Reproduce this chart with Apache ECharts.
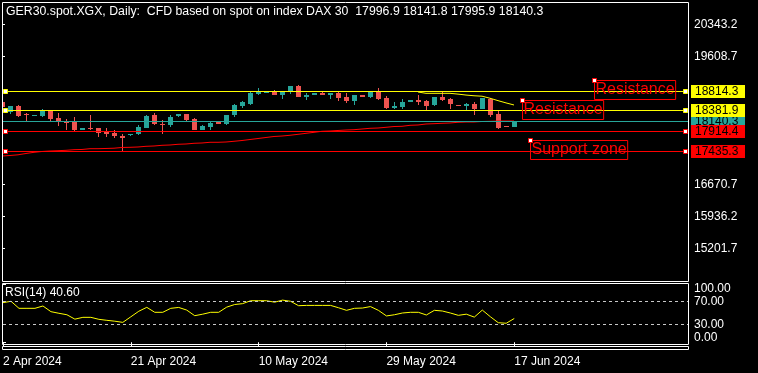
<!DOCTYPE html>
<html><head><meta charset="utf-8">
<script src="https://cdn.jsdelivr.net/npm/echarts@6/dist/echarts.min.js"></script>
<style>html,body{margin:0;padding:0;background:#000;}#c{width:758px;height:373px;}</style>
</head><body><div id="c"></div>
<script>
// ---------- DATA ----------
const symbolText = 'GER30.spot.XGX, Daily:  CFD based on spot on index DAX 30';
const dateLabels = ['2 Apr 2024','21 Apr 2024','10 May 2024','29 May 2024','17 Jun 2024'];
const dateLabelBars = [0,16,32,48,64];

const opens = [18568.7,18346.1,18476.9,18286.4,18254.3,18247.4,18362.1,18194.6,18116.6,18109.7,
17919.2,17972,17972,17910,17864.1,17788.4,17804.5,17834.3,17978.9,18277.2,
18070.7,18040.8,18247.4,18293.3,18178.5,17926.1,17994.9,18109.7,18063.8,18270.3,
18476.9,18522.8,18752.3,18782.1,18814.3,18736.2,18814.3,18935.9,18690.3,18736.2,
18775.2,18736.2,18775.2,18690.3,18598.5,18729.3,18690.3,18805.1,18667.4,18437.9,
18460.8,18568.7,18614.6,18591.6,18499.8,18683.4,18637.5,18506.7,18483.8,18522.8,
18408,18637.5,18293.3,18024.8,17996.9];
const highs = [18591.6,18476.9,18493,18309.4,18270.3,18401.2,18385.1,18316.2,18171.7,18217.6,
17965.1,18270.3,17972,17972,17926.1,17834.3,17834.3,18040.8,18270.3,18323.1,
18155.6,18270.3,18293.3,18293.3,18201.5,18040.8,18132.6,18109.7,18270.3,18522.8,
18591.6,18798.2,18890,18805.1,18844.1,18814.3,18935.9,18958.9,18782.1,18775.2,
18805.1,18775.2,18805.1,18782.1,18729.3,18729.3,18805.1,18896.9,18713.3,18568.7,
18637.5,18614.6,18729.3,18614.6,18683.4,18798.2,18660.5,18506.7,18545.7,18568.7,
18660.5,18660.5,18362.1,18024.8,18141.8];
const lows = [18453.9,18293.3,18224.4,18139.5,18254.3,18231.3,18109.7,18017.9,17919.2,17880.2,
17919.2,17926.1,17765.4,17765.4,17742.5,17437.3,17788.4,17811.3,17965.1,18034,
17834.3,17994.9,18224.4,18109.7,17926.1,17926.1,17926.1,18063.8,18040.8,18224.4,
18431,18499.8,18729.3,18782.1,18736.2,18644.4,18759.2,18683.4,18621.5,18736.2,
18736.2,18644.4,18598.5,18545.7,18506.7,18690.3,18660.5,18607.7,18401.2,18401.2,
18401.2,18568.7,18499.8,18362.1,18476.9,18591.6,18408,18483.8,18362.1,18277.2,
18408,18231.3,17949,18001.8,17995.9];
const closes = [18460.8,18476.9,18247.4,18263.5,18270.3,18362.1,18178.5,18116.6,18093.6,17919.2,
17965.1,17942.2,17864.1,17827.4,17781.5,17742.5,17834.3,18001.8,18247.4,18063.8,
18047.7,18224.4,18293.3,18155.6,17926.1,18017.9,18086.7,18063.8,18270.3,18499.8,
18568.7,18775.2,18821.1,18805.1,18736.2,18814.3,18935.9,18683.4,18736.2,18775.2,
18736.2,18775.2,18667.4,18591.6,18729.3,18690.3,18805.1,18644.4,18437.9,18483.8,
18568.7,18614.6,18568.7,18476.9,18683.4,18614.6,18522.8,18483.8,18522.8,18408,
18660.5,18277.2,17972,18001.8,18140.3];

const maRed = [17329,17341,17357,17387,17414,17433,17444,17451,17460,17474,
17479,17497,17497,17502,17508,17525,17529,17536,17552,17559,
17575,17582,17598,17605,17621,17628,17644,17644,17651,17667,
17685,17708,17731,17754,17777,17788,17805,17827,17850,17873,
17896,17903,17915,17926,17933,17949,17965,17972,17988,18006,
18011,18034,18041,18064,18071,18080,18087,18103,18110,18110,
18121,18126,18133,18133,18133];
const maYellowStartBar = 52;
const maYellow = [18798,18768,18768,18768,18768,18750,18728,18712,18702,18655,18600,18548,18500];

const rsi = [67.7,70,58,58,58,62,52.3,49.5,47,39.5,
42.6,42.6,39.2,37.5,36,34,43.5,53,59.7,51.2,
51.2,58,59.5,55,45.4,48,51.2,51.2,60,64.5,
66,71,71,71,68.5,72,70,62.5,63,63,
63,63,59,54.6,58,58.5,61,54.5,45,47,
50,51.2,51.2,46.6,54.6,53.4,50,46,48,43,
55,43.7,33.4,32.5,40.6];

const priceTicks = [20343.2,19608.7,16670.7,15936.2,15201.7];
const rsiTicks = [0,30,70,100];
const rsiLevels = [70,30];
const bidPrice = 18140.3;
const levelPrices = [18814.3,18381.9,17914.4,17435.3];
const noteTexts = ['Resistance','Resistance','Support zone'];
const noteBars = [74,65,66];
const notePrices = [19066.7,18621.5,17689.7];

// ---------- STYLE ----------
const UP = '#26a69a', DOWN = '#ef5350';
const FONT = '"Liberation Sans", Arial, sans-serif';
const levelColors = ['#ffff00','#ffff00','#ff0000','#ff0000'];

const chart = echarts.init(document.getElementById('c'), null, {renderer:'canvas'});

const candleData = opens.map((o,i)=>[i,o,closes[i],lows[i],highs[i]]);
const levelData = [bidPrice].concat(levelPrices).map(v=>[0,v]);
const levelLine = [UP].concat(levelColors);
const levelAnchor = [false,true,true,true,true];

const option = {
  backgroundColor:'#000',
  animation:false,
  textStyle:{fontFamily:FONT},
  title:[
    {text: symbolText + '  ' + [opens[64],highs[64],lows[64],closes[64]].map(v=>v.toFixed(1)).join(' '),
     left:6, top:6, padding:0, textStyle:{color:'#fff',fontSize:12.3,fontWeight:'normal',fontFamily:FONT}},
    {text:'RSI(14) ' + rsi[rsi.length-1].toFixed(2), left:5, top:287, padding:0,
     textStyle:{color:'#fff',fontSize:12,fontWeight:'normal',fontFamily:FONT}}
  ],
  grid:[
    {left:2, top:2, width:686, height:279, show:false},
    {left:2, top:283, width:686, height:61, show:false}
  ],
  xAxis:[
    {type:'value', gridIndex:0, min:0, max:85.75, show:false},
    {type:'value', gridIndex:1, min:0, max:85.75, position:'bottom', offset:5,
     axisLine:{show:false}, splitLine:{show:false},
     axisTick:{show:true, length:4, customValues:dateLabelBars, lineStyle:{color:'#fff'}},
     axisLabel:{customValues:dateLabelBars, color:'#fff', fontSize:12, align:'left', margin:7,
       formatter:v=>dateLabels[dateLabelBars.indexOf(v)] || ''}}
  ],
  yAxis:[
    {type:'value', gridIndex:0, position:'right', min:14460.65, max:20863.7,
     axisLine:{show:false}, splitLine:{show:false},
     axisTick:{show:true, length:3, customValues:priceTicks, lineStyle:{color:'#fff'}},
     axisLabel:{customValues:priceTicks, color:'#fff', fontSize:12, margin:6, formatter:v=>v.toFixed(1)}},
    {type:'value', gridIndex:1, position:'right', min:-3, max:101.3,
     axisLine:{show:false}, splitLine:{show:false},
     axisTick:{show:true, length:3, customValues:rsiTicks, lineStyle:{color:'#fff'}},
     axisLabel:{customValues:rsiTicks, color:'#fff', fontSize:12, margin:6, hideOverlap:false,
       formatter:v=> v===100 ? '{dn|'+v.toFixed(2)+'}' : (v===0 ? '{up|'+v.toFixed(2)+'}' : v.toFixed(2)),
       rich:{dn:{padding:[10,0,0,0],color:'#fff',fontSize:12}, up:{padding:[0,0,10,0],color:'#fff',fontSize:12}}}}
  ],
  series:[
    {type:'custom', name:'candles', xAxisIndex:0, yAxisIndex:0, clip:true, z:2,
     data:candleData, encode:{x:0, y:[1,2,3,4]},
     renderItem:function(params, api){
       const i=api.value(0), o=api.value(1), c=api.value(2), l=api.value(3), h=api.value(4);
       const po=api.coord([i,o]), pc=api.coord([i,c]), pl=api.coord([i,l]), ph=api.coord([i,h]);
       const col=Math.round(po[0]);
       const color = c>=o ? UP : DOWN;
       const top=Math.round(Math.min(po[1],pc[1])), bot=Math.round(Math.max(po[1],pc[1]));
       const wt=Math.round(ph[1]), wb=Math.round(pl[1]);
       return {type:'group', children:[
         {type:'rect', shape:{x:col, y:wt, width:1, height:Math.max(1,wb-wt)}, style:{fill:color}},
         {type:'rect', shape:{x:col-2, y:top, width:5, height:Math.max(1,bot-top)}, style:{fill:color}}
       ]};
     }},
    {type:'line', name:'maRed', xAxisIndex:0, yAxisIndex:0, z:3, symbol:'none',
     data:maRed.map((v,i)=>[i,v]), lineStyle:{color:'#ff0000', width:1}},
    {type:'line', name:'maYellow', xAxisIndex:0, yAxisIndex:0, z:3, symbol:'none',
     data:maYellow.map((v,i)=>[i+maYellowStartBar,v]), lineStyle:{color:'#ffff00', width:1}},
    {type:'custom', name:'levels', xAxisIndex:0, yAxisIndex:0, clip:false, z:5,
     data:levelData,
     renderItem:function(params, api){
       const k=params.dataIndex, cs=params.coordSys;
       const price=api.value(1);
       const row=Math.round(api.coord([0,price])[1]);
       const color=levelLine[k];
       const right=cs.x+cs.width;
       const ch=[
         {type:'line', shape:{x1:cs.x, y1:row+0.5, x2:right, y2:row+0.5}, style:{stroke:color, lineWidth:1}},
         {type:'rect', shape:{x:right+3, y:row-6, width:54, height:13}, style:{fill:color}},
         {type:'text', x:right+7, y:row+1, style:{text:price.toFixed(1), fill:'#000', font:'12px '+FONT, verticalAlign:'middle', align:'left'}}
       ];
       if(levelAnchor[k]){
         ch.push({type:'rect', shape:{x:cs.x+1.5, y:row-1.5, width:4, height:4}, style:{fill:'#fff', stroke:color, lineWidth:1}});
         ch.push({type:'rect', shape:{x:right-4.5, y:row-1.5, width:4, height:4}, style:{fill:'#fff', stroke:color, lineWidth:1}});
       }
       return {type:'group', children:ch};
     }},
    {type:'custom', name:'notes', xAxisIndex:0, yAxisIndex:0, clip:false, z:6,
     data:noteBars.map((b,i)=>[b,notePrices[i]]),
     renderItem:function(params, api){
       const p=api.coord([api.value(0), api.value(1)]);
       const ax=Math.round(p[0]), ay=Math.round(p[1]);
       return {type:'group', children:[
         {type:'text', x:ax+0.5, y:ay+0.5, style:{text:noteTexts[params.dataIndex], fill:'#ff0000',
           font:'16px '+FONT, verticalAlign:'top', align:'left', borderColor:'#ff0000', borderWidth:1,
           padding:[1,1,1,1], lineHeight:17}},
         {type:'rect', shape:{x:ax-1.5, y:ay-1.5, width:4, height:4}, style:{fill:'#fff', stroke:'#ff0000', lineWidth:1}}
       ]};
     }},
    {type:'line', name:'rsi', xAxisIndex:1, yAxisIndex:1, z:3, symbol:'none',
     data:rsi.map((v,i)=>[i,v]), lineStyle:{color:'#ffff00', width:1},
     markLine:{silent:true, symbol:'none', label:{show:false},
       lineStyle:{color:'#c8c8c8', width:1, type:[3,3]},
       data:rsiLevels.map(v=>({yAxis:v}))}}
  ],
  graphic:[
    {type:'rect', silent:true, z:100, shape:{x:2.5,y:2.5,width:686,height:279}, style:{fill:'none', stroke:'#fff', lineWidth:1}},
    {type:'rect', silent:true, z:100, shape:{x:2.5,y:283.5,width:686,height:61}, style:{fill:'none', stroke:'#fff', lineWidth:1}},
    {type:'rect', silent:true, z:100, shape:{x:2.5,y:346.5,width:686,height:3}, style:{fill:'none', stroke:'#fff', lineWidth:1}}
  ]
};
chart.setOption(option);
</script></body></html>
